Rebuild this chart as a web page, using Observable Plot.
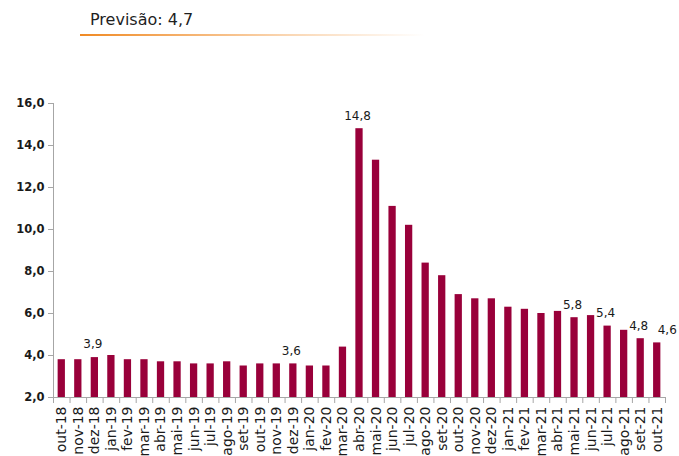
<!DOCTYPE html>
<html><head><meta charset="utf-8">
<script src="https://cdn.jsdelivr.net/npm/d3@7"></script>
<script src="https://cdn.jsdelivr.net/npm/@observablehq/plot@0.6"></script>
<style>
body{margin:0;background:#fff;font-family:"DejaVu Sans",sans-serif;}
#head{position:relative;height:45px;}
#title{position:absolute;left:90px;top:10px;font-size:16px;color:#1f1f1f;white-space:nowrap;}
#line{position:absolute;left:80px;top:34px;width:345px;height:2px;background:linear-gradient(to right,#f08a24 0%,rgba(240,138,36,0.35) 60%,rgba(240,138,36,0) 100%);}
#chart svg{display:block;}
</style></head><body>
<div id="head"><div id="title">Previsão: 4,7</div><div id="line"></div></div>
<div id="chart"></div>
<script>
const months = ["out-18","nov-18","dez-18","jan-19","fev-19","mar-19","abr-19","mai-19","jun-19","jul-19","ago-19","set-19","out-19","nov-19","dez-19","jan-20","fev-20","mar-20","abr-20","mai-20","jun-20","jul-20","ago-20","set-20","out-20","nov-20","dez-20","jan-21","fev-21","mar-21","abr-21","mai-21","jun-21","jul-21","ago-21","set-21","out-21"];
const values = [3.8,3.8,3.9,4.0,3.8,3.8,3.7,3.7,3.6,3.6,3.7,3.5,3.6,3.6,3.6,3.5,3.5,4.4,14.8,13.3,11.1,10.2,8.4,7.8,6.9,6.7,6.7,6.3,6.2,6.0,6.1,5.8,5.9,5.4,5.2,4.8,4.6];
const labelled = ["dez-18","dez-19","abr-20","mai-21","jul-21","set-21"];
const lastLabelled = ["out-21"];
const yTicks = [2,4,6,8,10,12,14,16];

const data = months.map((m,i) => ({m, v: values[i]}));
const fmt = d => d.toFixed(1).replace(".", ",");

const W = 679, H = 411, ML = 53, MR = 14, MT = 58, MB = 59;
const half = (W - ML - MR) / months.length / 2;
const axisColor = "#a6a6a6";

const chart = Plot.plot({
  width: W, height: H,
  marginLeft: ML, marginRight: MR, marginTop: MT, marginBottom: MB,
  style: {fontFamily: "DejaVu Sans, sans-serif", background: "#fff", color: "#1a1a1a"},
  x: {type: "band", domain: months, paddingInner: 0.56, paddingOuter: 0.28, round: false},
  y: {domain: [2, 16]},
  marks: [
    Plot.barY(data, {x: "m", y1: 2, y2: "v", fill: "#99003a"}),
    Plot.ruleY([2], {stroke: axisColor}),
    Plot.ruleX([months[0]], {dx: -half, stroke: axisColor}),
    Plot.ruleX(months, {dx: -half, y1: 2, y2: 2, insetBottom: -6, stroke: axisColor}),
    Plot.ruleX([months[months.length-1]], {dx: half, y1: 2, y2: 2, insetBottom: -6, stroke: axisColor}),
    Plot.axisY({ticks: yTicks, tickFormat: fmt, tickSize: 5, tickPadding: 4, fontSize: 11.5, fontWeight: "bold", stroke: axisColor, fill: "#1a1a1a", label: null}),
    Plot.axisX({tickSize: 0, tickPadding: 9, tickRotate: -90, fontSize: 14, fill: "#1a1a1a", label: null}),
    Plot.text(data.filter(d => labelled.includes(d.m)), {x: "m", y: "v", text: d => fmt(d.v), dy: -13, dx: -2, fontSize: 12, fill: "#1a1a1a"}),
    Plot.text(data.filter(d => lastLabelled.includes(d.m)), {x: "m", y: "v", text: d => fmt(d.v), dy: -13, dx: 10, fontSize: 12, fill: "#1a1a1a"})
  ]
});
document.getElementById("chart").appendChild(chart);
</script>
</body></html>
